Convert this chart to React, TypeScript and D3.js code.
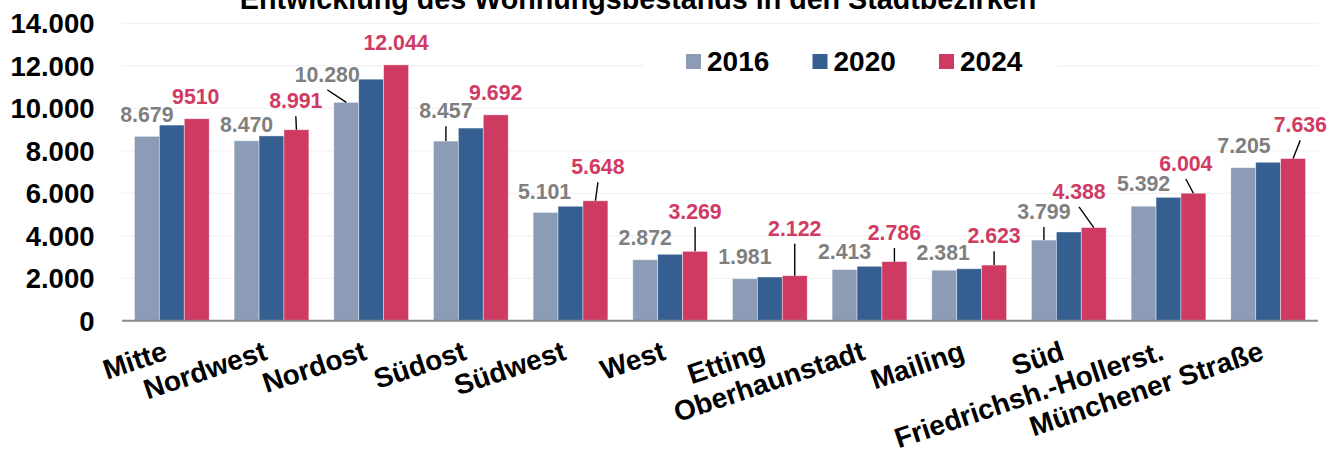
import React from "react";
import * as d3 from "d3";

const title = "Entwicklung des Wohnungsbestands in den Stadtbezirken";
const categories = [
  "Mitte", "Nordwest", "Nordost", "Südost", "Südwest", "West", "Etting",
  "Oberhaunstadt", "Mailing", "Süd", "Friedrichsh.-Hollerst.", "Münchener Straße",
];
const years = ["2016", "2020", "2024"];
const values2016 = [8679, 8470, 10280, 8457, 5101, 2872, 1981, 2413, 2381, 3799, 5392, 7205];
const values2020 = [9210, 8700, 11370, 9070, 5390, 3130, 2060, 2565, 2450, 4180, 5810, 7460];
const values2024 = [9510, 8991, 12044, 9692, 5648, 3269, 2122, 2786, 2623, 4388, 6004, 7636];
const labels2024 = ["9510", "8.991", "12.044", "9.692", "5.648", "3.269", "2.122", "2.786", "2.623", "4.388", "6.004", "7.636"];
const yTicks = [0, 2000, 4000, 6000, 8000, 10000, 12000, 14000];

// label layout: [dx from bar centre, gap between bar top and baseline, leader line]
const layout2016: [number, number, boolean][] = [
  [0, 14, false], [0, 9, false], [-19, 20.6, true], [0, 22.8, true],
  [-1, 13.4, false], [0, 14.5, false], [0, 14.4, false], [0, 10.5, false],
  [-1, 10, false], [0, 21, true], [0, 15, false], [0.7, 14.4, false],
];
const layout2024: [number, number, boolean][] = [
  [-1, 14.7, false], [-0.6, 21.4, true], [0, 15, false], [0, 14.8, false],
  [2.5, 26.5, true], [0, 32.3, true], [0, 40, true], [0, 21.6, true],
  [0, 21.8, true], [-14.7, 28.6, true], [-7.6, 22.2, true], [7.2, 26.2, true],
];

const colors: Record<string, string> = { "2016": "#8c9cb7", "2020": "#365f91", "2024": "#cf3a63" };
const FONT = "'Liberation Sans', Arial, sans-serif";

const de = d3.formatLocale({ decimal: ",", thousands: ".", grouping: [3], currency: ["", "€"] });
const fmt = de.format(",d");

export default function App() {
  const W = 1328, H = 454;
  const y = d3.scaleLinear().domain([0, 14000]).range([320.8, 23.3]);
  const x0 = d3.scaleBand<string>().domain(categories).range([122, 1318]);
  const x1 = d3.scaleBand<string>().domain(years).range([0, x0.bandwidth()]).paddingInner(0).paddingOuter(0.5);
  const bw = x1.bandwidth();
  const series: Record<string, number[]> = { "2016": values2016, "2020": values2020, "2024": values2024 };

  const renderLabels = (yr: string, vals: number[], texts: string[], lay: [number, number, boolean][], color: string) =>
    vals.map((v, i) => {
      const cx = (x0(categories[i]) as number) + (x1(yr) as number) + bw / 2;
      const top = y(v);
      const [dx, gap, leader] = lay[i];
      const lx = cx + dx;
      const base = top - gap;
      return (
        <g key={yr + i}>
          {leader && <line x1={lx} y1={base + 8} x2={cx} y2={top} stroke="#000" strokeWidth={1.4} />}
          <text x={lx} y={base} textAnchor="middle" fontSize={21.3} fontWeight="bold" fill={color} fontFamily={FONT}>
            {texts[i]}
          </text>
        </g>
      );
    });

  return (
    <svg width={W} height={H} style={{ position: "absolute", left: 0, top: 0, background: "#fff" }}>
      <rect x={0} y={0} width={W} height={H} fill="#fff" />
      {yTicks.filter((t) => t > 0).map((t) => (
        <line key={t} x1={122} x2={1318} y1={y(t)} y2={y(t)} stroke="#efefef" strokeWidth={1} />
      ))}
      {yTicks.map((t) => (
        <text key={t} x={94.5} y={y(t) + 10} textAnchor="end" fontSize={27.5} fontWeight="bold" fontFamily={FONT} fill="#000">
          {fmt(t)}
        </text>
      ))}
      {categories.map((c, i) => (
        <g key={c}>
          {years.map((yr) => {
            const v = series[yr][i];
            return (
              <rect
                key={yr}
                x={(x0(c) as number) + (x1(yr) as number)}
                y={y(v)}
                width={bw}
                height={y(0) - y(v)}
                fill={colors[yr]}
                stroke="#ffffff"
                strokeOpacity={0.5}
                strokeWidth={0.8}
              />
            );
          })}
        </g>
      ))}
      <line x1={122} x2={1318} y1={y(0)} y2={y(0)} stroke="#898989" strokeWidth={2} />
      {renderLabels("2016", values2016, values2016.map(fmt), layout2016, "#7f7f7f")}
      {renderLabels("2024", values2024, labels2024, layout2024, "#d03a63")}
      {categories.map((c) => {
        const cx = (x0(c) as number) + x0.bandwidth() / 2 - 3;
        return (
          <text key={c} transform={`translate(${cx},359) rotate(-18.5)`} textAnchor="end" fontSize={28} fontWeight="bold" fontFamily={FONT} fill="#000">
            {c}
          </text>
        );
      })}
      <rect x={644} y={36} width={413} height={58} fill="#fff" />
      {years.map((yr, i) => (
        <g key={yr} transform={`translate(${686 + i * 126.5},0)`}>
          <rect x={0} y={54} width={15} height={15} fill={colors[yr]} />
          <text x={21} y={71} fontSize={28} fontWeight="bold" fontFamily={FONT} fill="#000">{yr}</text>
        </g>
      ))}
      <text x={638} y={8.5} textAnchor="middle" fontSize={28.7} fontWeight="bold" fontFamily={FONT} fill="#000">{title}</text>
    </svg>
  );
}
